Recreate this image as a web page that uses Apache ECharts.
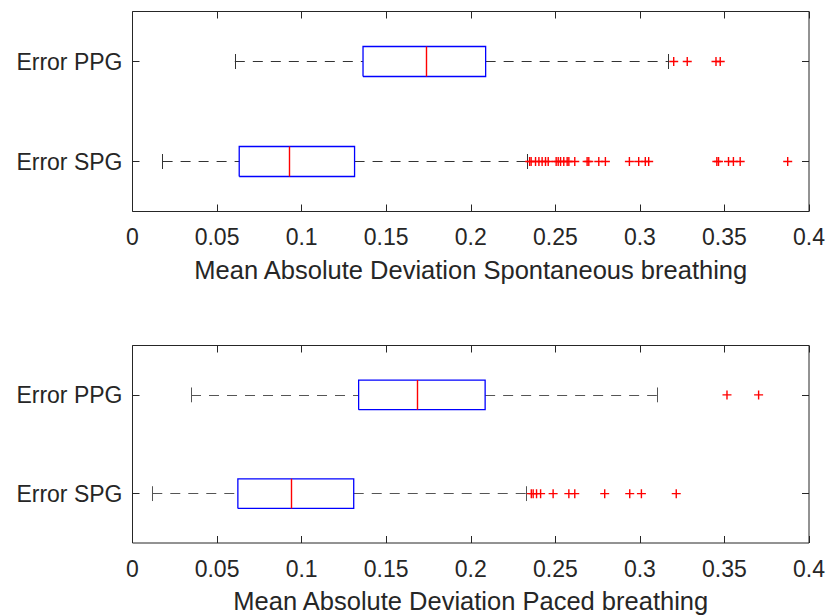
<!DOCTYPE html>
<html>
<head>
<meta charset="utf-8">
<script src="https://cdn.jsdelivr.net/npm/echarts@6/dist/echarts.min.js"></script>
<style>
html,body{margin:0;padding:0;background:#fff;}
#chart{width:828px;height:615px;}
</style>
</head>
<body>
<div id="chart"></div>
<script>
// ---- data ----
const categories = ['Error SPG', 'Error PPG'];
const xTicks = [0, 0.05, 0.1, 0.15, 0.2, 0.25, 0.3, 0.35, 0.4];
// [low whisker, q1, median, q3, high whisker] per category (SPG, PPG)
const spontBoxSPG = [0.0178, 0.0631, 0.0927, 0.1313, 0.2335];
const spontBoxPPG = [0.0605, 0.1363, 0.1734, 0.2088, 0.3166];
const pacedBoxSPG = [0.0117, 0.0623, 0.0937, 0.1308, 0.2330];
const pacedBoxPPG = [0.0346, 0.1337, 0.1686, 0.2085, 0.3100];
// outliers
const spontOutSPG = [0.2348, 0.2357, 0.2383, 0.2403, 0.2422, 0.2442, 0.2458, 0.2505, 0.2517, 0.2531,
  0.2550, 0.2570, 0.2580, 0.2615, 0.2688, 0.2698, 0.2757, 0.2796, 0.2938, 0.2993, 0.3032, 0.3052,
  0.3455, 0.3465, 0.3524, 0.3553, 0.3593, 0.3874];
const spontOutPPG = [0.3200, 0.3280, 0.3450, 0.3475];
const pacedOutSPG = [0.2358, 0.2369, 0.2389, 0.2413, 0.2487, 0.2580, 0.2615, 0.2792, 0.2940, 0.3009, 0.3215];
const pacedOutPPG = [0.3515, 0.3702];
const xNames = ['Mean Absolute Deviation Spontaneous breathing', 'Mean Absolute Deviation Paced breathing'];

// ---- styling ----
const FONT = "'Liberation Sans', Arial, Helvetica, sans-serif";
const TXT = '#262626';
const grids = [
  {left: 132.5, right: 17.5, top: 11.5, height: 200},
  {left: 132.5, right: 17.5, top: 345.5, height: 200}
];
const whiskerColors = ['#333333', '#555555'];
const BOX_HALF = 0.15;   // box half-height in category units
const CAP_HALF = 0.075;  // whisker cap half-height

const xAxes = [], yAxes = [], series = [];
const panels = [
  {boxes: [spontBoxSPG, spontBoxPPG], outs: [spontOutSPG, spontOutPPG]},
  {boxes: [pacedBoxSPG, pacedBoxPPG], outs: [pacedOutSPG, pacedOutPPG]}
];
const catIdx = categories.map((c, i) => i);
const PLUS = 'path://M-0.7,-4.5H0.7V-0.7H4.5V0.7H0.7V4.5H-0.7V0.7H-4.5V-0.7H-0.7Z';

panels.forEach((pn, g) => {
  const tickStyle = () => ({show: true, inside: true, length: 7, lineStyle: {color: TXT, width: 1}});
  xAxes.push({
    gridIndex: g, type: 'value', position: 'bottom',
    min: xTicks[0], max: xTicks[xTicks.length - 1], interval: xTicks[1] - xTicks[0],
    axisLine: {show: false, onZero: false}, axisTick: tickStyle(), splitLine: {show: false},
    axisLabel: {color: TXT, fontSize: 23, fontFamily: FONT, margin: 14},
    name: xNames[g], nameLocation: 'middle', nameGap: 45,
    nameTextStyle: {color: TXT, fontSize: 25.5, fontFamily: FONT}
  });
  xAxes.push({
    gridIndex: g, type: 'value', position: 'top',
    min: xTicks[0], max: xTicks[xTicks.length - 1], interval: xTicks[1] - xTicks[0],
    axisLine: {show: false, onZero: false}, axisTick: tickStyle(), splitLine: {show: false},
    axisLabel: {show: false}
  });
  yAxes.push({
    gridIndex: g, type: 'value', position: 'left', min: -0.5, max: categories.length - 0.5,
    axisLine: {show: false, onZero: false}, splitLine: {show: false},
    axisTick: Object.assign({customValues: catIdx}, tickStyle()),
    axisLabel: {customValues: catIdx, color: TXT, fontSize: 23, fontFamily: FONT, margin: 10,
      formatter: v => categories[Math.round(v)]}
  });
  yAxes.push({
    gridIndex: g, type: 'value', position: 'right', min: -0.5, max: categories.length - 0.5,
    axisLine: {show: false, onZero: false}, splitLine: {show: false},
    axisTick: Object.assign({customValues: catIdx}, tickStyle()),
    axisLabel: {show: false}
  });

  const whiskers = [], caps = [], rects = [], medians = [];
  pn.boxes.forEach((b, i) => {
    const [low, q1, med, q3, high] = b;
    whiskers.push({coords: [[low, i], [q1, i]]});
    whiskers.push({coords: [[q3, i], [high, i]]});
    caps.push({coords: [[low, i - CAP_HALF], [low, i + CAP_HALF]]});
    caps.push({coords: [[high, i - CAP_HALF], [high, i + CAP_HALF]]});
    rects.push({coords: [[q1, i - BOX_HALF], [q3, i - BOX_HALF], [q3, i + BOX_HALF], [q1, i + BOX_HALF], [q1, i - BOX_HALF]]});
    medians.push({coords: [[med, i - BOX_HALF], [med, i + BOX_HALF]]});
  });
  const base = {type: 'lines', coordinateSystem: 'cartesian2d', xAxisIndex: 2 * g, yAxisIndex: 2 * g,
    silent: true, symbol: 'none', effect: {show: false}};
  series.push(Object.assign({}, base, {data: whiskers, polyline: false,
    lineStyle: {color: whiskerColors[g], width: 1, type: [10, 8], opacity: 1}, z: 2}));
  series.push(Object.assign({}, base, {data: caps, polyline: false,
    lineStyle: {color: whiskerColors[g], width: 1, type: 'solid', opacity: 1}, z: 2}));
  series.push(Object.assign({}, base, {data: rects, polyline: true,
    lineStyle: {color: '#0000ff', width: 1.3, type: 'solid', opacity: 1}, z: 3}));
  series.push(Object.assign({}, base, {data: medians, polyline: false,
    lineStyle: {color: '#ff0000', width: 1.4, type: 'solid', opacity: 1}, z: 4}));

  const outData = [];
  pn.outs.forEach((arr, i) => arr.forEach(v => outData.push([v, i])));
  series.push({
    type: 'scatter', xAxisIndex: 2 * g, yAxisIndex: 2 * g,
    symbol: PLUS, symbolSize: 9, symbolKeepAspect: true,
    itemStyle: {color: '#ff0000', opacity: 1},
    data: outData, silent: true, z: 5
  });
});

const chart = echarts.init(document.getElementById('chart'), null, {renderer: 'svg'});
chart.setOption({
  animation: false,
  backgroundColor: '#ffffff',
  grid: grids.map(gr => Object.assign({show: true, borderColor: TXT, borderWidth: 1, backgroundColor: 'transparent'}, gr)),
  xAxis: xAxes,
  yAxis: yAxes,
  series: series
});
</script>
</body>
</html>
